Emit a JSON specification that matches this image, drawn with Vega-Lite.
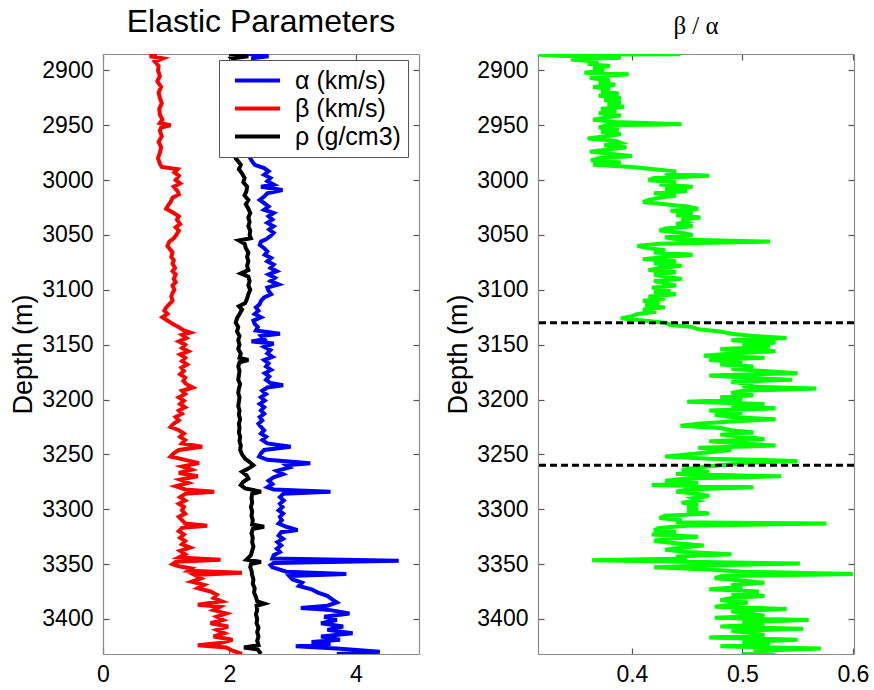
{
"$schema": "https://vega.github.io/schema/vega-lite/v6.json",
"background": "white",
"padding": {"left": 9, "top": 6, "right": 0, "bottom": 0},
"bounds": "flush",
"spacing": 119,
"config": {
  "font": "Liberation Sans",
  "view": {"stroke": null},
  "axis": {"labelFont": "Liberation Sans", "labelFontSize": 23, "labelColor": "#000", "labelFlush": false, "domainColor": "#8a8a8a", "domainWidth": 1.2, "tickColor": "#555", "tickWidth": 1.2, "tickSize": -6, "grid": false, "titleFont": "Liberation Sans", "titleFontSize": 27, "titleFontWeight": "normal", "titleColor": "#000"},
  "title": {"font": "Liberation Sans", "fontWeight": "normal", "color": "#000"}
},
"datasets": {
  "elastic": [
{"s":"b","d":2885,"v":0.85},{"s":"b","d":2887,"v":0.74},{"s":"b","d":2889,"v":0.95},{"s":"b","d":2892,"v":0.82},{"s":"b","d":2896,"v":0.88},{"s":"b","d":2900,"v":0.87},{"s":"b","d":2905,"v":0.9},{"s":"b","d":2910,"v":0.86},{"s":"b","d":2915,"v":0.92},{"s":"b","d":2920,"v":0.88},{"s":"b","d":2925,"v":0.9},{"s":"b","d":2930,"v":0.93},{"s":"b","d":2935,"v":0.89},{"s":"b","d":2940,"v":0.9},{"s":"b","d":2945,"v":0.94},{"s":"b","d":2948,"v":0.9},{"s":"b","d":2950,"v":1.07},{"s":"b","d":2952,"v":0.92},{"s":"b","d":2955,"v":0.9},{"s":"b","d":2960,"v":0.93},{"s":"b","d":2965,"v":0.88},{"s":"b","d":2970,"v":0.92},{"s":"b","d":2975,"v":0.9},{"s":"b","d":2980,"v":0.87},{"s":"b","d":2985,"v":0.9},{"s":"b","d":2988,"v":0.93},{"s":"b","d":2990,"v":1.18},{"s":"b","d":2993,"v":1.13},{"s":"b","d":2996,"v":1.2},{"s":"b","d":3000,"v":1.15},{"s":"b","d":3003,"v":1.22},{"s":"b","d":3006,"v":1.12},{"s":"b","d":3010,"v":1.18},{"s":"b","d":3013,"v":1.2},{"s":"b","d":3016,"v":1.1},{"s":"b","d":3020,"v":1.07},{"s":"b","d":3023,"v":1.03},{"s":"b","d":3026,"v":1.0},{"s":"b","d":3030,"v":1.12},{"s":"b","d":3033,"v":1.2},{"s":"b","d":3036,"v":1.17},{"s":"b","d":3040,"v":1.22},{"s":"b","d":3043,"v":1.15},{"s":"b","d":3046,"v":1.2},{"s":"b","d":3050,"v":1.16},{"s":"b","d":3053,"v":1.12},{"s":"b","d":3056,"v":1.05},{"s":"b","d":3060,"v":1.02},{"s":"b","d":3063,"v":1.06},{"s":"b","d":3066,"v":1.1},{"s":"b","d":3070,"v":1.08},{"s":"b","d":3073,"v":1.12},{"s":"b","d":3076,"v":1.1},{"s":"b","d":3080,"v":1.14},{"s":"b","d":3083,"v":1.1},{"s":"b","d":3086,"v":1.15},{"s":"b","d":3090,"v":1.12},{"s":"b","d":3093,"v":1.15},{"s":"b","d":3096,"v":1.1},{"s":"b","d":3100,"v":1.13},{"s":"b","d":3103,"v":1.1},{"s":"b","d":3106,"v":1.08},{"s":"b","d":3110,"v":1.1},{"s":"b","d":3113,"v":1.05},{"s":"b","d":3116,"v":1.0},{"s":"b","d":3119,"v":0.97},{"s":"b","d":3122,"v":1.02},{"s":"b","d":3125,"v":0.94},{"s":"b","d":3128,"v":1.02},{"s":"b","d":3131,"v":1.1},{"s":"b","d":3134,"v":1.2},{"s":"b","d":3137,"v":1.28},{"s":"b","d":3139,"v":1.38},{"s":"b","d":3141,"v":1.25},{"s":"b","d":3144,"v":1.32},{"s":"b","d":3147,"v":1.2},{"s":"b","d":3150,"v":1.3},{"s":"b","d":3153,"v":1.25},{"s":"b","d":3156,"v":1.35},{"s":"b","d":3159,"v":1.22},{"s":"b","d":3162,"v":1.3},{"s":"b","d":3165,"v":1.25},{"s":"b","d":3168,"v":1.33},{"s":"b","d":3171,"v":1.24},{"s":"b","d":3174,"v":1.28},{"s":"b","d":3177,"v":1.22},{"s":"b","d":3180,"v":1.3},{"s":"b","d":3183,"v":1.27},{"s":"b","d":3186,"v":1.32},{"s":"b","d":3189,"v":1.42},{"s":"b","d":3192,"v":1.25},{"s":"b","d":3195,"v":1.3},{"s":"b","d":3198,"v":1.2},{"s":"b","d":3201,"v":1.28},{"s":"b","d":3204,"v":1.22},{"s":"b","d":3207,"v":1.3},{"s":"b","d":3210,"v":1.2},{"s":"b","d":3213,"v":1.25},{"s":"b","d":3216,"v":1.15},{"s":"b","d":3219,"v":1.2},{"s":"b","d":3222,"v":1.12},{"s":"b","d":3225,"v":1.07},{"s":"b","d":3228,"v":1.2},{"s":"b","d":3231,"v":1.28},{"s":"b","d":3234,"v":1.22},{"s":"b","d":3237,"v":1.3},{"s":"b","d":3240,"v":1.25},{"s":"b","d":3243,"v":1.57},{"s":"b","d":3246,"v":1.2},{"s":"b","d":3249,"v":1.12},{"s":"b","d":3252,"v":1.07},{"s":"b","d":3255,"v":1.3},{"s":"b","d":3258,"v":1.52},{"s":"b","d":3261,"v":1.25},{"s":"b","d":3264,"v":1.4},{"s":"b","d":3267,"v":1.2},{"s":"b","d":3270,"v":1.5},{"s":"b","d":3273,"v":1.22},{"s":"b","d":3276,"v":1.35},{"s":"b","d":3279,"v":1.15},{"s":"b","d":3282,"v":1.3},{"s":"b","d":3284,"v":1.76},{"s":"b","d":3286,"v":1.3},{"s":"b","d":3289,"v":1.22},{"s":"b","d":3292,"v":1.3},{"s":"b","d":3295,"v":1.2},{"s":"b","d":3298,"v":1.28},{"s":"b","d":3301,"v":1.25},{"s":"b","d":3304,"v":1.3},{"s":"b","d":3307,"v":1.2},{"s":"b","d":3310,"v":1.25},{"s":"b","d":3313,"v":1.3},{"s":"b","d":3315,"v":1.65},{"s":"b","d":3317,"v":1.25},{"s":"b","d":3320,"v":1.2},{"s":"b","d":3323,"v":1.28},{"s":"b","d":3326,"v":1.22},{"s":"b","d":3329,"v":1.3},{"s":"b","d":3332,"v":1.25},{"s":"b","d":3335,"v":1.38},{"s":"b","d":3338,"v":1.22},{"s":"b","d":3341,"v":1.3},{"s":"b","d":3344,"v":1.2},{"s":"b","d":3346,"v":1.86},{"s":"b","d":3348,"v":1.15},{"s":"b","d":3350,"v":1.1},{"s":"b","d":3352,"v":1.2},{"s":"b","d":3354,"v":1.4},{"s":"b","d":3356,"v":1.35},{"s":"b","d":3358,"v":2.2},{"s":"b","d":3360,"v":1.45},{"s":"b","d":3363,"v":1.55},{"s":"b","d":3366,"v":1.4},{"s":"b","d":3369,"v":1.6},{"s":"b","d":3372,"v":1.5},{"s":"b","d":3375,"v":1.7},{"s":"b","d":3378,"v":1.8},{"s":"b","d":3381,"v":1.75},{"s":"b","d":3384,"v":1.88},{"s":"b","d":3387,"v":1.5},{"s":"b","d":3389,"v":1.85},{"s":"b","d":3392,"v":1.75},{"s":"b","d":3395,"v":1.95},{"s":"b","d":3398,"v":1.8},{"s":"b","d":3401,"v":1.9},{"s":"b","d":3404,"v":1.7},{"s":"b","d":3407,"v":1.98},{"s":"b","d":3410,"v":1.8},{"s":"b","d":3413,"v":1.92},{"s":"b","d":3416,"v":1.75},{"s":"b","d":3419,"v":2.05},{"s":"b","d":3422,"v":1.85},{"s":"b","d":3424,"v":1.5},{"s":"b","d":3426,"v":1.95},{"s":"b","d":3429,"v":2.05},{"s":"b","d":3432,"v":2.2},
{"s":"r","d":2885,"v":2.0},{"s":"r","d":2887,"v":2.3},{"s":"r","d":2889,"v":2.05},{"s":"r","d":2893,"v":2.15},{"s":"r","d":2900,"v":2.12},{"s":"r","d":2910,"v":2.15},{"s":"r","d":2920,"v":2.1},{"s":"r","d":2930,"v":2.15},{"s":"r","d":2940,"v":2.12},{"s":"r","d":2950,"v":2.15},{"s":"r","d":2960,"v":2.1},{"s":"r","d":2970,"v":2.12},{"s":"r","d":2976,"v":2.1},{"s":"r","d":2980,"v":2.1},{"s":"r","d":2983,"v":2.14},{"s":"r","d":2986,"v":2.18},{"s":"r","d":2990,"v":2.15},{"s":"r","d":2994,"v":2.2},{"s":"r","d":2998,"v":2.24},{"s":"r","d":3002,"v":2.22},{"s":"r","d":3006,"v":2.28},{"s":"r","d":3010,"v":2.27},{"s":"r","d":3014,"v":2.24},{"s":"r","d":3018,"v":2.3},{"s":"r","d":3022,"v":2.26},{"s":"r","d":3026,"v":2.3},{"s":"r","d":3030,"v":2.33},{"s":"r","d":3034,"v":2.3},{"s":"r","d":3038,"v":2.32},{"s":"r","d":3042,"v":2.3},{"s":"r","d":3046,"v":2.33},{"s":"r","d":3050,"v":2.32},{"s":"r","d":3053,"v":2.34},{"s":"r","d":3055,"v":2.15},{"s":"r","d":3058,"v":2.24},{"s":"r","d":3062,"v":2.26},{"s":"r","d":3066,"v":2.3},{"s":"r","d":3070,"v":2.28},{"s":"r","d":3074,"v":2.3},{"s":"r","d":3078,"v":2.28},{"s":"r","d":3082,"v":2.3},{"s":"r","d":3085,"v":2.18},{"s":"r","d":3088,"v":2.3},{"s":"r","d":3092,"v":2.32},{"s":"r","d":3096,"v":2.3},{"s":"r","d":3100,"v":2.33},{"s":"r","d":3104,"v":2.3},{"s":"r","d":3108,"v":2.28},{"s":"r","d":3112,"v":2.25},{"s":"r","d":3115,"v":2.15},{"s":"r","d":3118,"v":2.2},{"s":"r","d":3122,"v":2.16},{"s":"r","d":3126,"v":2.12},{"s":"r","d":3130,"v":2.1},{"s":"r","d":3134,"v":2.14},{"s":"r","d":3138,"v":2.12},{"s":"r","d":3142,"v":2.16},{"s":"r","d":3146,"v":2.14},{"s":"r","d":3150,"v":2.16},{"s":"r","d":3154,"v":2.14},{"s":"r","d":3158,"v":2.18},{"s":"r","d":3162,"v":2.16},{"s":"r","d":3164,"v":2.3},{"s":"r","d":3166,"v":2.16},{"s":"r","d":3170,"v":2.14},{"s":"r","d":3174,"v":2.16},{"s":"r","d":3178,"v":2.15},{"s":"r","d":3182,"v":2.14},{"s":"r","d":3186,"v":2.17},{"s":"r","d":3190,"v":2.15},{"s":"r","d":3194,"v":2.14},{"s":"r","d":3198,"v":2.16},{"s":"r","d":3202,"v":2.15},{"s":"r","d":3206,"v":2.14},{"s":"r","d":3210,"v":2.16},{"s":"r","d":3214,"v":2.15},{"s":"r","d":3218,"v":2.17},{"s":"r","d":3222,"v":2.15},{"s":"r","d":3226,"v":2.16},{"s":"r","d":3230,"v":2.15},{"s":"r","d":3234,"v":2.17},{"s":"r","d":3238,"v":2.16},{"s":"r","d":3242,"v":2.18},{"s":"r","d":3246,"v":2.17},{"s":"r","d":3250,"v":2.2},{"s":"r","d":3254,"v":2.25},{"s":"r","d":3257,"v":2.32},{"s":"r","d":3260,"v":2.38},{"s":"r","d":3263,"v":2.3},{"s":"r","d":3266,"v":2.2},{"s":"r","d":3269,"v":2.27},{"s":"r","d":3272,"v":2.3},{"s":"r","d":3275,"v":2.22},{"s":"r","d":3278,"v":2.18},{"s":"r","d":3281,"v":2.25},{"s":"r","d":3284,"v":2.5},{"s":"r","d":3286,"v":2.36},{"s":"r","d":3290,"v":2.35},{"s":"r","d":3294,"v":2.36},{"s":"r","d":3298,"v":2.34},{"s":"r","d":3302,"v":2.36},{"s":"r","d":3306,"v":2.35},{"s":"r","d":3310,"v":2.37},{"s":"r","d":3314,"v":2.36},{"s":"r","d":3316,"v":2.55},{"s":"r","d":3318,"v":2.37},{"s":"r","d":3322,"v":2.35},{"s":"r","d":3326,"v":2.37},{"s":"r","d":3330,"v":2.36},{"s":"r","d":3334,"v":2.38},{"s":"r","d":3338,"v":2.36},{"s":"r","d":3342,"v":2.34},{"s":"r","d":3346,"v":2.27},{"s":"r","d":3348,"v":2.5},{"s":"r","d":3350,"v":2.34},{"s":"r","d":3353,"v":2.33},{"s":"r","d":3356,"v":2.35},{"s":"r","d":3360,"v":2.36},{"s":"r","d":3364,"v":2.38},{"s":"r","d":3368,"v":2.37},{"s":"r","d":3372,"v":2.4},{"s":"r","d":3376,"v":2.39},{"s":"r","d":3380,"v":2.42},{"s":"r","d":3384,"v":2.44},{"s":"r","d":3386,"v":2.55},{"s":"r","d":3388,"v":2.43},{"s":"r","d":3392,"v":2.44},{"s":"r","d":3396,"v":2.42},{"s":"r","d":3400,"v":2.44},{"s":"r","d":3404,"v":2.43},{"s":"r","d":3408,"v":2.46},{"s":"r","d":3412,"v":2.44},{"s":"r","d":3416,"v":2.46},{"s":"r","d":3420,"v":2.44},{"s":"r","d":3424,"v":2.46},{"s":"r","d":3426,"v":2.23},{"s":"r","d":3428,"v":2.45},{"s":"r","d":3432,"v":2.5},
{"s":"a","d":2885,"v":2.3},{"s":"a","d":2887,"v":2.62},{"s":"a","d":2889,"v":2.35},{"s":"a","d":2892,"v":2.5},{"s":"a","d":2900,"v":2.45},{"s":"a","d":2910,"v":2.5},{"s":"a","d":2920,"v":2.45},{"s":"a","d":2930,"v":2.5},{"s":"a","d":2940,"v":2.45},{"s":"a","d":2950,"v":2.5},{"s":"a","d":2960,"v":2.45},{"s":"a","d":2970,"v":2.4},{"s":"a","d":2976,"v":2.35},{"s":"a","d":2980,"v":2.33},{"s":"a","d":2983,"v":2.36},{"s":"a","d":2986,"v":2.4},{"s":"a","d":2989,"v":2.55},{"s":"a","d":2992,"v":2.62},{"s":"a","d":2995,"v":2.55},{"s":"a","d":2998,"v":2.65},{"s":"a","d":3001,"v":2.6},{"s":"a","d":3004,"v":2.7},{"s":"a","d":3006,"v":2.5},{"s":"a","d":3009,"v":2.84},{"s":"a","d":3012,"v":2.6},{"s":"a","d":3015,"v":2.55},{"s":"a","d":3018,"v":2.48},{"s":"a","d":3021,"v":2.55},{"s":"a","d":3024,"v":2.62},{"s":"a","d":3027,"v":2.55},{"s":"a","d":3030,"v":2.7},{"s":"a","d":3033,"v":2.62},{"s":"a","d":3036,"v":2.68},{"s":"a","d":3039,"v":2.6},{"s":"a","d":3042,"v":2.7},{"s":"a","d":3045,"v":2.63},{"s":"a","d":3048,"v":2.7},{"s":"a","d":3051,"v":2.65},{"s":"a","d":3054,"v":2.58},{"s":"a","d":3056,"v":2.5},{"s":"a","d":3059,"v":2.48},{"s":"a","d":3062,"v":2.55},{"s":"a","d":3065,"v":2.6},{"s":"a","d":3068,"v":2.56},{"s":"a","d":3071,"v":2.66},{"s":"a","d":3074,"v":2.6},{"s":"a","d":3077,"v":2.7},{"s":"a","d":3080,"v":2.65},{"s":"a","d":3083,"v":2.75},{"s":"a","d":3086,"v":2.62},{"s":"a","d":3089,"v":2.72},{"s":"a","d":3092,"v":2.65},{"s":"a","d":3095,"v":2.78},{"s":"a","d":3098,"v":2.6},{"s":"a","d":3101,"v":2.62},{"s":"a","d":3104,"v":2.66},{"s":"a","d":3107,"v":2.55},{"s":"a","d":3110,"v":2.5},{"s":"a","d":3113,"v":2.48},{"s":"a","d":3116,"v":2.42},{"s":"a","d":3119,"v":2.46},{"s":"a","d":3122,"v":2.4},{"s":"a","d":3125,"v":2.5},{"s":"a","d":3128,"v":2.38},{"s":"a","d":3131,"v":2.4},{"s":"a","d":3134,"v":2.45},{"s":"a","d":3137,"v":2.42},{"s":"a","d":3140,"v":2.8},{"s":"a","d":3142,"v":2.5},{"s":"a","d":3145,"v":2.55},{"s":"a","d":3147,"v":2.35},{"s":"a","d":3149,"v":2.7},{"s":"a","d":3152,"v":2.55},{"s":"a","d":3155,"v":2.65},{"s":"a","d":3158,"v":2.6},{"s":"a","d":3161,"v":2.68},{"s":"a","d":3164,"v":2.55},{"s":"a","d":3167,"v":2.62},{"s":"a","d":3170,"v":2.58},{"s":"a","d":3173,"v":2.66},{"s":"a","d":3176,"v":2.56},{"s":"a","d":3179,"v":2.63},{"s":"a","d":3182,"v":2.58},{"s":"a","d":3185,"v":2.65},{"s":"a","d":3187,"v":2.85},{"s":"a","d":3189,"v":2.6},{"s":"a","d":3192,"v":2.52},{"s":"a","d":3195,"v":2.58},{"s":"a","d":3198,"v":2.5},{"s":"a","d":3201,"v":2.56},{"s":"a","d":3204,"v":2.48},{"s":"a","d":3207,"v":2.55},{"s":"a","d":3210,"v":2.5},{"s":"a","d":3213,"v":2.55},{"s":"a","d":3216,"v":2.48},{"s":"a","d":3219,"v":2.52},{"s":"a","d":3222,"v":2.46},{"s":"a","d":3225,"v":2.5},{"s":"a","d":3228,"v":2.55},{"s":"a","d":3231,"v":2.5},{"s":"a","d":3234,"v":2.58},{"s":"a","d":3237,"v":2.52},{"s":"a","d":3240,"v":2.6},{"s":"a","d":3243,"v":2.97},{"s":"a","d":3246,"v":2.55},{"s":"a","d":3249,"v":2.5},{"s":"a","d":3252,"v":2.47},{"s":"a","d":3255,"v":2.6},{"s":"a","d":3258,"v":3.28},{"s":"a","d":3260,"v":2.9},{"s":"a","d":3262,"v":2.95},{"s":"a","d":3265,"v":2.75},{"s":"a","d":3268,"v":2.85},{"s":"a","d":3271,"v":2.7},{"s":"a","d":3274,"v":2.62},{"s":"a","d":3277,"v":2.68},{"s":"a","d":3280,"v":2.6},{"s":"a","d":3282,"v":2.7},{"s":"a","d":3284,"v":3.6},{"s":"a","d":3286,"v":2.85},{"s":"a","d":3289,"v":2.8},{"s":"a","d":3292,"v":2.86},{"s":"a","d":3295,"v":2.8},{"s":"a","d":3298,"v":2.84},{"s":"a","d":3301,"v":2.78},{"s":"a","d":3304,"v":2.85},{"s":"a","d":3307,"v":2.8},{"s":"a","d":3310,"v":2.83},{"s":"a","d":3313,"v":2.78},{"s":"a","d":3316,"v":2.9},{"s":"a","d":3319,"v":3.08},{"s":"a","d":3321,"v":2.82},{"s":"a","d":3324,"v":2.78},{"s":"a","d":3327,"v":2.85},{"s":"a","d":3330,"v":2.76},{"s":"a","d":3333,"v":2.82},{"s":"a","d":3336,"v":2.75},{"s":"a","d":3339,"v":2.8},{"s":"a","d":3342,"v":2.7},{"s":"a","d":3345,"v":2.68},{"s":"a","d":3347,"v":4.68},{"s":"a","d":3349,"v":2.7},{"s":"a","d":3351,"v":2.65},{"s":"a","d":3353,"v":2.68},{"s":"a","d":3355,"v":2.8},{"s":"a","d":3357,"v":2.9},{"s":"a","d":3359,"v":3.85},{"s":"a","d":3361,"v":2.95},{"s":"a","d":3364,"v":3.0},{"s":"a","d":3367,"v":3.15},{"s":"a","d":3370,"v":3.1},{"s":"a","d":3373,"v":3.3},{"s":"a","d":3376,"v":3.4},{"s":"a","d":3379,"v":3.55},{"s":"a","d":3382,"v":3.62},{"s":"a","d":3385,"v":3.7},{"s":"a","d":3388,"v":3.55},{"s":"a","d":3390,"v":3.13},{"s":"a","d":3392,"v":3.6},{"s":"a","d":3395,"v":3.9},{"s":"a","d":3398,"v":3.5},{"s":"a","d":3401,"v":3.7},{"s":"a","d":3404,"v":3.45},{"s":"a","d":3407,"v":3.8},{"s":"a","d":3410,"v":3.55},{"s":"a","d":3413,"v":3.95},{"s":"a","d":3416,"v":3.45},{"s":"a","d":3419,"v":3.75},{"s":"a","d":3421,"v":3.3},{"s":"a","d":3423,"v":3.6},{"s":"a","d":3425,"v":3.05},{"s":"a","d":3427,"v":3.7},{"s":"a","d":3430,"v":4.38},{"s":"a","d":3432,"v":3.7}
  ],
  "ratio": [{"d":2885.2,"r":0.444},{"d":2885.6,"r":0.316},{"d":2887,"r":0.345},{"d":2888.5,"r":0.39},{"d":2890,"r":0.345},{"d":2892,"r":0.37},{"d":2894,"r":0.36},{"d":2896,"r":0.38},{"d":2898,"r":0.365},{"d":2900,"r":0.375},{"d":2902,"r":0.357},{"d":2903.5,"r":0.397},{"d":2905,"r":0.37},{"d":2907,"r":0.362},{"d":2909,"r":0.38},{"d":2911,"r":0.37},{"d":2913,"r":0.385},{"d":2915,"r":0.365},{"d":2917,"r":0.38},{"d":2919,"r":0.372},{"d":2921,"r":0.388},{"d":2923,"r":0.37},{"d":2925,"r":0.39},{"d":2927,"r":0.375},{"d":2929,"r":0.39},{"d":2931,"r":0.378},{"d":2933,"r":0.393},{"d":2935,"r":0.372},{"d":2937,"r":0.386},{"d":2939,"r":0.37},{"d":2941,"r":0.39},{"d":2943,"r":0.375},{"d":2945,"r":0.365},{"d":2947,"r":0.385},{"d":2949,"r":0.445},{"d":2950,"r":0.378},{"d":2952,"r":0.37},{"d":2954,"r":0.388},{"d":2956,"r":0.372},{"d":2958,"r":0.39},{"d":2960,"r":0.376},{"d":2962,"r":0.36},{"d":2964,"r":0.385},{"d":2966,"r":0.39},{"d":2968,"r":0.375},{"d":2970,"r":0.395},{"d":2972,"r":0.378},{"d":2974,"r":0.362},{"d":2976,"r":0.38},{"d":2978,"r":0.4},{"d":2980,"r":0.37},{"d":2982,"r":0.363},{"d":2984,"r":0.39},{"d":2986,"r":0.365},{"d":2988,"r":0.4},{"d":2990,"r":0.42},{"d":2992,"r":0.44},{"d":2994,"r":0.43},{"d":2996,"r":0.47},{"d":2998,"r":0.42},{"d":3000,"r":0.415},{"d":3002,"r":0.44},{"d":3004,"r":0.425},{"d":3006,"r":0.455},{"d":3008,"r":0.43},{"d":3010,"r":0.45},{"d":3012,"r":0.42},{"d":3014,"r":0.44},{"d":3016,"r":0.425},{"d":3018,"r":0.415},{"d":3020,"r":0.41},{"d":3022,"r":0.43},{"d":3024,"r":0.45},{"d":3026,"r":0.46},{"d":3028,"r":0.435},{"d":3030,"r":0.455},{"d":3032,"r":0.44},{"d":3034,"r":0.462},{"d":3036,"r":0.445},{"d":3038,"r":0.45},{"d":3040,"r":0.44},{"d":3042,"r":0.455},{"d":3044,"r":0.43},{"d":3046,"r":0.425},{"d":3048,"r":0.445},{"d":3050,"r":0.455},{"d":3052,"r":0.43},{"d":3054,"r":0.44},{"d":3056,"r":0.525},{"d":3058,"r":0.425},{"d":3060,"r":0.405},{"d":3062,"r":0.415},{"d":3064,"r":0.43},{"d":3066,"r":0.42},{"d":3068,"r":0.455},{"d":3070,"r":0.43},{"d":3072,"r":0.41},{"d":3074,"r":0.44},{"d":3076,"r":0.42},{"d":3078,"r":0.445},{"d":3080,"r":0.425},{"d":3082,"r":0.415},{"d":3084,"r":0.44},{"d":3086,"r":0.42},{"d":3088,"r":0.43},{"d":3090,"r":0.445},{"d":3092,"r":0.42},{"d":3094,"r":0.43},{"d":3096,"r":0.44},{"d":3098,"r":0.418},{"d":3100,"r":0.435},{"d":3102,"r":0.42},{"d":3104,"r":0.44},{"d":3106,"r":0.415},{"d":3108,"r":0.43},{"d":3110,"r":0.41},{"d":3112,"r":0.425},{"d":3114,"r":0.412},{"d":3116,"r":0.43},{"d":3118,"r":0.41},{"d":3120,"r":0.422},{"d":3122,"r":0.405},{"d":3124,"r":0.4},{"d":3126,"r":0.39},{"d":3128,"r":0.41},{"d":3130,"r":0.43},{"d":3132,"r":0.435},{"d":3134,"r":0.455},{"d":3136,"r":0.46},{"d":3138,"r":0.48},{"d":3140,"r":0.49},{"d":3142,"r":0.51},{"d":3144,"r":0.54},{"d":3146,"r":0.49},{"d":3148,"r":0.53},{"d":3150,"r":0.5},{"d":3152,"r":0.525},{"d":3154,"r":0.48},{"d":3156,"r":0.53},{"d":3158,"r":0.49},{"d":3160,"r":0.465},{"d":3162,"r":0.52},{"d":3164,"r":0.47},{"d":3166,"r":0.5},{"d":3168,"r":0.48},{"d":3170,"r":0.51},{"d":3172,"r":0.49},{"d":3174,"r":0.52},{"d":3176,"r":0.55},{"d":3178,"r":0.47},{"d":3180,"r":0.5},{"d":3182,"r":0.545},{"d":3184,"r":0.49},{"d":3186,"r":0.51},{"d":3188,"r":0.5},{"d":3190,"r":0.567},{"d":3192,"r":0.5},{"d":3194,"r":0.49},{"d":3196,"r":0.51},{"d":3198,"r":0.48},{"d":3200,"r":0.5},{"d":3202,"r":0.45},{"d":3204,"r":0.52},{"d":3206,"r":0.49},{"d":3208,"r":0.53},{"d":3210,"r":0.47},{"d":3212,"r":0.5},{"d":3214,"r":0.475},{"d":3216,"r":0.49},{"d":3218,"r":0.53},{"d":3220,"r":0.49},{"d":3222,"r":0.46},{"d":3224,"r":0.444},{"d":3226,"r":0.48},{"d":3228,"r":0.49},{"d":3230,"r":0.51},{"d":3232,"r":0.48},{"d":3234,"r":0.5},{"d":3236,"r":0.52},{"d":3238,"r":0.47},{"d":3240,"r":0.5},{"d":3242,"r":0.53},{"d":3244,"r":0.46},{"d":3246,"r":0.49},{"d":3248,"r":0.47},{"d":3250,"r":0.45},{"d":3252,"r":0.43},{"d":3254,"r":0.47},{"d":3256,"r":0.55},{"d":3258,"r":0.5},{"d":3260,"r":0.48},{"d":3262,"r":0.46},{"d":3264,"r":0.445},{"d":3266,"r":0.47},{"d":3268,"r":0.44},{"d":3270,"r":0.535},{"d":3272,"r":0.45},{"d":3274,"r":0.43},{"d":3276,"r":0.46},{"d":3278,"r":0.418},{"d":3280,"r":0.51},{"d":3282,"r":0.45},{"d":3284,"r":0.44},{"d":3286,"r":0.46},{"d":3288,"r":0.47},{"d":3290,"r":0.455},{"d":3292,"r":0.46},{"d":3294,"r":0.445},{"d":3296,"r":0.46},{"d":3298,"r":0.45},{"d":3300,"r":0.46},{"d":3302,"r":0.45},{"d":3304,"r":0.47},{"d":3306,"r":0.43},{"d":3308,"r":0.425},{"d":3310,"r":0.445},{"d":3312,"r":0.44},{"d":3313,"r":0.576},{"d":3315,"r":0.45},{"d":3317,"r":0.425},{"d":3319,"r":0.42},{"d":3321,"r":0.44},{"d":3323,"r":0.418},{"d":3325,"r":0.46},{"d":3327,"r":0.43},{"d":3329,"r":0.42},{"d":3331,"r":0.44},{"d":3333,"r":0.465},{"d":3335,"r":0.445},{"d":3337,"r":0.43},{"d":3339,"r":0.45},{"d":3341,"r":0.49},{"d":3343,"r":0.44},{"d":3345,"r":0.45},{"d":3346.5,"r":0.364},{"d":3348,"r":0.45},{"d":3349.5,"r":0.552},{"d":3351,"r":0.47},{"d":3353,"r":0.42},{"d":3355,"r":0.47},{"d":3357,"r":0.5},{"d":3359,"r":0.6},{"d":3361,"r":0.48},{"d":3363,"r":0.475},{"d":3365,"r":0.5},{"d":3367,"r":0.52},{"d":3369,"r":0.49},{"d":3371,"r":0.5},{"d":3373,"r":0.47},{"d":3375,"r":0.515},{"d":3377,"r":0.49},{"d":3379,"r":0.52},{"d":3381,"r":0.49},{"d":3383,"r":0.48},{"d":3385,"r":0.505},{"d":3387,"r":0.49},{"d":3389,"r":0.475},{"d":3391,"r":0.54},{"d":3393,"r":0.49},{"d":3395,"r":0.5},{"d":3397,"r":0.52},{"d":3399,"r":0.475},{"d":3401,"r":0.56},{"d":3403,"r":0.5},{"d":3405,"r":0.52},{"d":3407,"r":0.48},{"d":3409,"r":0.555},{"d":3411,"r":0.49},{"d":3413,"r":0.51},{"d":3415,"r":0.52},{"d":3417,"r":0.47},{"d":3419,"r":0.55},{"d":3421,"r":0.5},{"d":3423,"r":0.525},{"d":3425,"r":0.48},{"d":3427,"r":0.571},{"d":3429,"r":0.51},{"d":3431,"r":0.53},{"d":3432,"r":0.5}],
  "bounds": [{"d":3130},{"d":3260}]
},
"hconcat": [
  {
    "width": 316, "height": 600,
    "title": {"text": "Elastic Parameters", "fontSize": 32, "baseline": "alphabetic", "offset": -13},
    "layer": [
      {"data": {"name": "elastic"}, "mark": {"type": "line", "strokeWidth": 4, "clip": true},
       "encoding": {
         "x": {"field": "v", "type": "quantitative", "scale": {"domain": [0, 5], "nice": false, "zero": false}, "axis": {"orient": "bottom", "values": [0, 2, 4], "title": null, "labelPadding": 15}},
         "y": {"field": "d", "type": "quantitative", "scale": {"domain": [2885, 3432], "reverse": true, "nice": false, "zero": false}, "axis": {"orient": "left", "values": [2900,2950,3000,3050,3100,3150,3200,3250,3300,3350,3400], "format": "d", "title": "Depth (m)", "labelPadding": 16, "titlePadding": 4}},
         "color": {"field": "s", "type": "nominal", "scale": {"domain": ["a", "b", "r"], "range": ["#0000ff", "#ff0000", "#000000"]},
           "legend": {"title": null, "orient": "none", "legendX": 116, "legendY": 6, "fillColor": "white", "strokeColor": "#555", "padding": 7, "symbolType": "M-2,0H2", "symbolSize": 506, "symbolStrokeWidth": 4, "symbolOffset": 18, "labelOffset": 24, "labelFontSize": 25, "labelFont": "Liberation Sans", "labelColor": "#000", "rowPadding": 1,
             "labelExpr": "datum.value == 'a' ? 'α (km/s)' : datum.value == 'b' ? 'β (km/s)' : 'ρ (g/cm3)'"}},
         "order": {"field": "d", "type": "quantitative"}
       }},
      {"data": {"name": "elastic"}, "mark": {"type": "point", "opacity": 0},
       "encoding": {
         "x": {"field": "v", "type": "quantitative", "scale": {"domain": [0, 5], "nice": false, "zero": false}, "axis": {"orient": "top", "values": [0, 2, 4], "labels": false, "title": null}},
         "y": {"field": "d", "type": "quantitative", "scale": {"domain": [2885, 3432], "reverse": true, "nice": false, "zero": false}, "axis": {"orient": "right", "values": [2900,2950,3000,3050,3100,3150,3200,3250,3300,3350,3400], "labels": false, "title": null}}
       }}
    ],
    "resolve": {"axis": {"x": "independent", "y": "independent"}}
  },
  {
    "width": 316, "height": 600,
    "title": {"text": "β / α", "fontSize": 25, "font": "Liberation Serif", "baseline": "alphabetic", "offset": -6},
    "layer": [
      {"data": {"name": "ratio"}, "mark": {"type": "line", "color": "#00ff00", "strokeWidth": 4, "clip": true},
       "encoding": {
         "x": {"field": "r", "type": "quantitative", "scale": {"domain": [0.315, 0.601], "nice": false, "zero": false}, "axis": {"orient": "bottom", "values": [0.4, 0.5, 0.6], "format": ".1f", "title": null, "labelPadding": 15}},
         "y": {"field": "d", "type": "quantitative", "scale": {"domain": [2885, 3432], "reverse": true, "nice": false, "zero": false}, "axis": {"orient": "left", "values": [2900,2950,3000,3050,3100,3150,3200,3250,3300,3350,3400], "format": "d", "title": "Depth (m)", "labelPadding": 16, "titlePadding": 4}},
         "order": {"field": "d", "type": "quantitative"}
       }},
      {"data": {"name": "bounds"}, "mark": {"type": "rule", "color": "#000", "strokeWidth": 3, "strokeDash": [7, 4]},
       "encoding": {"y": {"field": "d", "type": "quantitative", "scale": {"domain": [2885, 3432], "reverse": true, "nice": false, "zero": false}, "axis": {"orient": "right", "values": [2900,2950,3000,3050,3100,3150,3200,3250,3300,3350,3400], "labels": false, "title": null}}}},
      {"data": {"name": "ratio"}, "mark": {"type": "point", "opacity": 0},
       "encoding": {
         "x": {"field": "r", "type": "quantitative", "scale": {"domain": [0.315, 0.601], "nice": false, "zero": false}, "axis": {"orient": "top", "values": [0.4, 0.5, 0.6], "labels": false, "title": null}}
       }}
    ],
    "resolve": {"axis": {"x": "independent", "y": "independent"}}
  }
]
}
